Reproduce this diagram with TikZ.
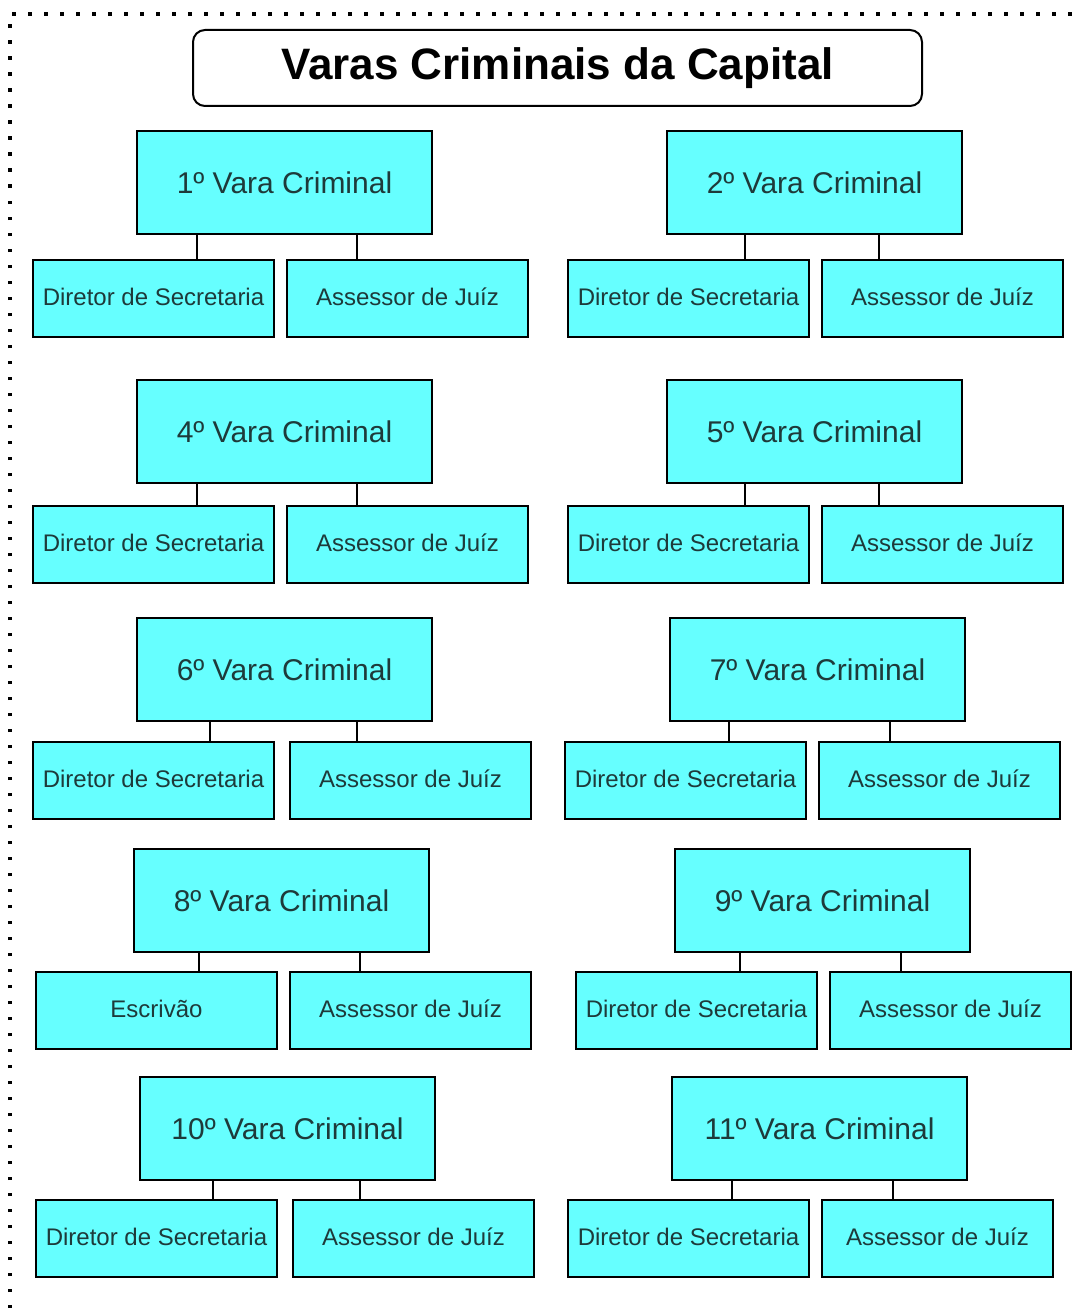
\documentclass[tikz,border=0pt]{standalone}
\usepackage{fontspec}
\setmainfont{Liberation Sans}
\usepackage{xcolor}
\definecolor{varafill}{HTML}{66FFFF}
\definecolor{varatext}{HTML}{1E3A3A}
\newcommand{\vlink}[3]{\draw[link] ([xshift=#3]#1.south west) -- ([xshift=#3]#1.south west |- #2.north);}

\begin{document}
\begin{tikzpicture}[x=1pt,y=-1pt,
  vara/.style={draw,line width=2pt,fill=varafill,text=varatext,anchor=north west,outer sep=0pt,
    minimum width=295pt,minimum height=103pt,inner sep=0pt,font=\fontsize{30}{35}\selectfont},
  cargo/.style={draw,line width=2pt,fill=varafill,text=varatext,anchor=north west,outer sep=0pt,
    text height=17.2pt,text depth=4pt,
    minimum width=241pt,minimum height=77pt,inner sep=0pt,font=\fontsize{24}{28}\selectfont},
  link/.style={line width=2pt}]
\useasboundingbox (0,0) rectangle (1082,1308);
\draw[line width=3.5pt,dash pattern=on 3.5pt off 12.5pt] (10,1308) -- (10,14) -- (1082,14);

% titulo
\node[draw,line width=2pt,rounded corners=12pt,anchor=north west,outer sep=0pt,minimum width=729pt,minimum height=76pt,
  inner sep=0pt,font=\fontsize{44}{50}\selectfont\bfseries] (titulo) at (193,30) {Varas Criminais da Capital};

% 1 e 2
\node[vara] (v1) at (137,131) {1º Vara Criminal};
\node[cargo] (d1) at (33,260) {Diretor de Secretaria};
\node[cargo] (a1) at (287,260) {Assessor de Juíz};
\vlink{v1}{d1}{60pt} \vlink{v1}{a1}{220pt}

\node[vara] (v2) at (667,131) {2º Vara Criminal};
\node[cargo] (d2) at (568,260) {Diretor de Secretaria};
\node[cargo] (a2) at (822,260) {Assessor de Juíz};
\vlink{v2}{d2}{78pt} \vlink{v2}{a2}{212pt}

% 4 e 5
\node[vara] (v4) at (137,380) {4º Vara Criminal};
\node[cargo] (d4) at (33,506) {Diretor de Secretaria};
\node[cargo] (a4) at (287,506) {Assessor de Juíz};
\vlink{v4}{d4}{60pt} \vlink{v4}{a4}{220pt}

\node[vara] (v5) at (667,380) {5º Vara Criminal};
\node[cargo] (d5) at (568,506) {Diretor de Secretaria};
\node[cargo] (a5) at (822,506) {Assessor de Juíz};
\vlink{v5}{d5}{78pt} \vlink{v5}{a5}{212pt}

% 6 e 7
\node[vara] (v6) at (137,618) {6º Vara Criminal};
\node[cargo] (d6) at (33,742) {Diretor de Secretaria};
\node[cargo] (a6) at (290,742) {Assessor de Juíz};
\vlink{v6}{d6}{73pt} \vlink{v6}{a6}{220pt}

\node[vara] (v7) at (670,618) {7º Vara Criminal};
\node[cargo] (d7) at (565,742) {Diretor de Secretaria};
\node[cargo] (a7) at (819,742) {Assessor de Juíz};
\vlink{v7}{d7}{59pt} \vlink{v7}{a7}{220pt}

% 8 e 9
\node[vara] (v8) at (134,849) {8º Vara Criminal};
\node[cargo] (e8) at (36,972) {Escrivão};
\node[cargo] (a8) at (290,972) {Assessor de Juíz};
\vlink{v8}{e8}{65pt} \vlink{v8}{a8}{226pt}

\node[vara] (v9) at (675,849) {9º Vara Criminal};
\node[cargo] (d9) at (576,972) {Diretor de Secretaria};
\node[cargo] (a9) at (830,972) {Assessor de Juíz};
\vlink{v9}{d9}{65pt} \vlink{v9}{a9}{226pt}

% 10 e 11
\node[vara] (v10) at (140,1077) {10º Vara Criminal};
\node[cargo] (d10) at (36,1200) {Diretor de Secretaria};
\node[cargo] (a10) at (293,1200) {Assessor de Juíz};
\vlink{v10}{d10}{73pt} \vlink{v10}{a10}{220pt}

\node[vara] (v11) at (672,1077) {11º Vara Criminal};
\node[cargo] (d11) at (568,1200) {Diretor de Secretaria};
\node[cargo,minimum width=231pt] (a11) at (822,1200) {Assessor de Juíz};
\vlink{v11}{d11}{60pt} \vlink{v11}{a11}{221pt}
\end{tikzpicture}
\end{document}
